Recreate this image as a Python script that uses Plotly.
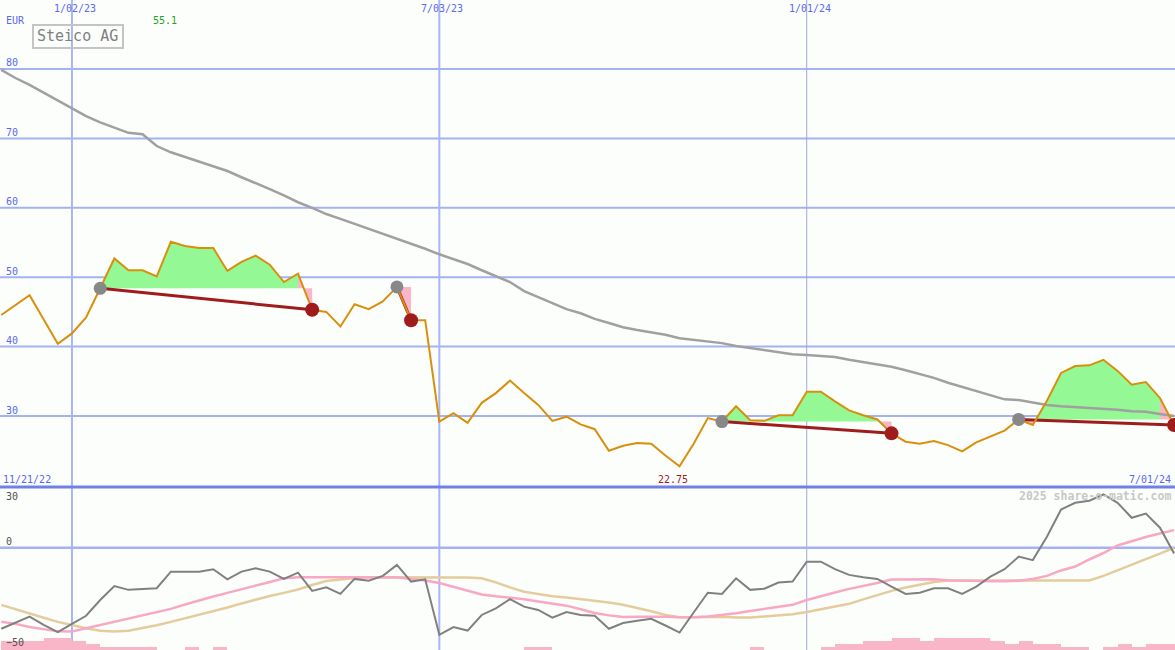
import pandas as pd
import plotly.graph_objects as go

W, H = 1175, 650

# ---------------- data ----------------
start = pd.Timestamp('2022-11-28')
dates = [start + pd.Timedelta(weeks=i) for i in range(84)]

price = [44.55, 46.0, 47.4, 43.9, 40.4, 41.9, 44.2, 48.4, 52.7, 51.0,
         51.0, 50.1, 55.1, 54.5, 54.2, 54.2, 50.9, 52.2, 53.1, 51.8,
         49.3, 50.5, 45.3, 45.0, 42.9, 46.1, 45.4, 46.5, 48.6, 43.8,
         43.8, 29.2, 30.4, 29.0, 31.9, 33.3, 35.1, 33.3, 31.6, 29.3,
         29.9, 28.8, 28.1, 25.0, 25.7, 26.1, 26.0, 24.3, 22.75, 26.0,
         29.7, 29.2, 31.4, 29.4, 29.3, 30.1, 30.1, 33.5, 33.5, 32.1,
         30.8, 30.1, 29.5, 27.5, 26.3, 26.0, 26.4, 25.8, 24.9, 26.2,
         27.1, 27.9, 29.5, 28.7, 32.2, 36.2, 37.2, 37.3, 38.1, 36.5,
         34.5, 34.9, 32.6, 28.7]

ma200 = [79.86, 78.7, 77.7, 76.6, 75.5, 74.4, 73.2, 72.3, 71.5, 70.8,
         70.6, 68.9, 68.0, 67.3, 66.6, 66.0, 65.3, 64.4, 63.6, 62.7,
         61.8, 60.8, 60.0, 59.1, 58.4, 57.7, 56.9, 56.2, 55.6, 54.8,
         54.1, 53.3, 52.6, 51.9, 51.0, 50.2, 49.3, 48.0, 47.1, 46.3,
         45.4, 44.8, 44.0, 43.4, 42.8, 42.4, 42.1, 41.7, 41.2, 41.0,
         40.8, 40.5, 40.1, 39.8, 39.5, 39.2, 38.9, 38.8, 38.6, 38.5,
         38.1, 37.8, 37.5, 37.1, 36.6, 36.1, 35.5, 34.8, 34.2, 33.6,
         33.0, 32.4, 32.3, 31.9, 31.6, 31.4, 31.3, 31.2, 31.0, 30.9,
         30.7, 30.6, 30.3, 30.0]

osc_gray = [-40.0, -36.9, -34.0, -38.1, -41.7, -37.6, -33.6, -25.8, -18.9, -20.8,
            -20.3, -20.0, -11.8, -11.8, -11.8, -10.6, -15.6, -11.8, -10.1, -11.8,
            -15.4, -12.3, -21.3, -19.5, -22.8, -15.4, -16.3, -13.9, -8.5, -16.7,
            -15.6, -43.0, -39.2, -40.9, -33.2, -29.9, -25.4, -29.1, -30.7, -34.5,
            -31.8, -33.2, -33.6, -40.0, -37.2, -36.0, -35.1, -38.4, -41.9, -32.0,
            -22.2, -22.8, -15.1, -20.8, -20.2, -17.2, -16.7, -6.9, -6.9, -10.6,
            -13.4, -14.6, -15.4, -19.2, -22.8, -22.2, -20.0, -20.0, -22.8, -19.2,
            -14.3, -10.6, -4.4, -6.1, 5.4, 18.9, 22.2, 23.2, 26.3, 22.2,
            14.8, 16.9, 9.9, -2.8]

osc_pink = [-36.5, -37.6, -39.1, -40.3, -41.3, -41.4, -39.8, -38.1, -36.4, -35.0,
            -33.1, -31.7, -30.2, -28.0, -25.9, -24.1, -22.3, -20.6, -18.7, -16.9,
            -15.1, -14.6, -14.6, -14.6, -14.6, -14.6, -14.6, -14.6, -14.6, -15.4,
            -16.2, -17.4, -19.4, -21.3, -23.1, -24.0, -24.6, -25.4, -26.5, -27.5,
            -28.6, -30.4, -32.2, -33.4, -34.2, -34.1, -34.0, -34.1, -34.3, -34.3,
            -33.9, -33.2, -32.3, -31.2, -30.2, -29.2, -28.2, -25.8, -23.8, -22.1,
            -20.3, -18.9, -17.4, -15.7, -15.6, -15.6, -15.6, -16.0, -16.3, -16.5,
            -16.6, -16.5, -16.3, -15.4, -13.9, -11.2, -9.3, -5.8, -2.6, 1.1,
            3.3, 5.3, 7.0, 8.7]

osc_tan = [-28.2, -30.4, -32.7, -34.6, -36.6, -38.3, -39.8, -41.0, -41.4, -41.0,
           -39.8, -38.3, -36.6, -34.9, -33.2, -31.2, -29.5, -27.5, -25.6, -23.8,
           -22.3, -20.6, -18.4, -16.4, -15.7, -14.9, -14.6, -14.6, -14.6, -14.6,
           -14.6, -14.6, -14.6, -14.7, -15.1, -17.1, -19.6, -21.7, -22.8, -24.0,
           -24.6, -25.3, -26.0, -27.0, -28.2, -29.7, -31.4, -33.2, -34.3, -34.3,
           -34.2, -34.1, -34.4, -34.5, -34.0, -33.5, -32.8, -31.7, -30.4, -29.2,
           -27.7, -25.5, -23.3, -21.3, -19.6, -18.1, -16.9, -16.2, -16.2, -16.2,
           -16.2, -16.2, -16.2, -16.2, -16.2, -16.2, -16.2, -16.2, -13.9, -11.0,
           -8.5, -5.6, -2.9, 0.0]

vol_level = [3, 3, 3, 4, 4, 3, 2, 1, 1, 1,
             1, 0, 0, 1, 0, 1, 0, 0, 0, 0,
             0, 0, 0, 0, 0, 0, 0, 0, 0, 0,
             0, 0, 0, 0, 0, 0, 0, 1, 1, 0,
             0, 0, 0, 0, 0, 0, 0, 0, 0, 0,
             0, 0, 0, 1, 0, 0, 0, 0, 1, 2,
             2, 3, 3, 4, 4, 3, 4, 4, 4, 4,
             3, 2, 3, 2, 2, 1, 1, 0, 1, 2,
             1, 2, 2, 2]

signal_start = [7, 28, 51, 72]
signal_end = [22, 29, 63, 83]

y_ticks = [80, 70, 60, 50, 40, 30]
y2_ticks = [30, 0, -50]
date_lines = ['2023-01-02', '2023-07-03', '2024-01-01']
date_labels = ['1/02/23', '7/03/23', '1/01/24']
date_line_width = [2, 2, 1]
first_label = '11/21/22'
last_label = '7/01/24'
max_label = '55.1'
min_label = '22.75'
title = 'Steico AG'
currency = 'EUR'

# ---------------- styles ----------------
BG = '#fcfefc'
GRID = '#a4b2f2'
SEP = '#7080e8'
TICK = '#5a68f0'
ORANGE = '#d8900c'
GREEN = '#94f894'
PINK = '#f8b6c8'
DARKRED = '#a01c1c'
MONO = 'DejaVu Sans Mono'

split = 1 - 487 / H
y_range = [19.77, 89.94]
y2_range = [-50.5, 30]

fig = go.Figure()


def clipped_poly(i0, i1, level, above):
    xs, ys = [], []
    for k in range(i0, i1 + 1):
        p = price[k]
        if k > i0:
            pp = price[k - 1]
            if (pp - level) * (p - level) < 0:
                f = (level - pp) / (p - pp)
                xs.append(dates[k - 1] + (dates[k] - dates[k - 1]) * f)
                ys.append(level)
        xs.append(dates[k])
        ys.append(max(p, level) if above else min(p, level))
    xs += [dates[i1], dates[i0]]
    ys += [level, level]
    return xs, ys


# lower panel bars
bar_base = y2_range[0] - 0.1
fig.add_trace(go.Bar(
    x=[d + pd.Timedelta(days=3.5) for d in dates],
    y=[v * 1.5 + (0.15 if v else 0) for v in vol_level],
    base=bar_base, width=7 * 24 * 3600 * 1000,
    marker=dict(color=PINK, line=dict(width=0)),
    yaxis='y2', hoverinfo='skip'))

# lower panel lines
fig.add_trace(go.Scatter(x=dates, y=osc_tan, mode='lines', yaxis='y2',
                         line=dict(color='#e4cc9c', width=2.5), hoverinfo='skip'))
fig.add_trace(go.Scatter(x=dates, y=osc_pink, mode='lines', yaxis='y2',
                         line=dict(color='#f8a8c4', width=2.5), hoverinfo='skip'))
fig.add_trace(go.Scatter(x=dates, y=osc_gray, mode='lines', yaxis='y2',
                         line=dict(color='#808080', width=2), hoverinfo='skip'))

# signal fills
for g, r in zip(signal_start, signal_end):
    L = price[g]
    if r - 1 > g:
        xs, ys = clipped_poly(g, r - 1, L, True)
        fig.add_trace(go.Scatter(x=xs, y=ys, fill='toself', fillcolor=GREEN,
                                 mode='lines', line=dict(width=0), hoverinfo='skip'))
    xs, ys = clipped_poly(g, r, L, False)
    fig.add_trace(go.Scatter(x=xs, y=ys, fill='toself', fillcolor=PINK,
                             mode='lines', line=dict(width=0), hoverinfo='skip'))
    p0, p1 = price[r - 1], price[r]
    if p0 > L > p1 and r - 1 > g:
        f = (L - p0) / (p1 - p0)
        xc = dates[r - 1] + (dates[r] - dates[r - 1]) * f
        fig.add_trace(go.Scatter(x=[dates[r - 1], xc, dates[r - 1]], y=[p0, L, L],
                                 fill='toself', fillcolor=PINK, mode='lines',
                                 line=dict(width=0), hoverinfo='skip'))

# moving average
fig.add_trace(go.Scatter(x=dates, y=ma200, mode='lines',
                         line=dict(color='#a0a0a0', width=2.5), hoverinfo='skip'))

# support lines
for g, r in zip(signal_start, signal_end):
    fig.add_trace(go.Scatter(x=[dates[g], dates[r]], y=[price[g], price[r]], mode='lines',
                             line=dict(color=DARKRED, width=3), hoverinfo='skip'))

# price
fig.add_trace(go.Scatter(x=dates, y=price, mode='lines',
                         line=dict(color=ORANGE, width=2), hoverinfo='skip'))

# dots
fig.add_trace(go.Scatter(x=[dates[g] for g in signal_start], y=[price[g] for g in signal_start],
                         mode='markers', marker=dict(color='#888888', size=13, line=dict(width=0)),
                         hoverinfo='skip'))
fig.add_trace(go.Scatter(x=[dates[r] for r in signal_end], y=[price[r] for r in signal_end],
                         mode='markers', marker=dict(color=DARKRED, size=14, line=dict(width=0)),
                         hoverinfo='skip'))

shapes = []
for v in y_ticks:
    shapes.append(dict(type='line', xref='paper', x0=0, x1=1, yref='y', y0=v, y1=v,
                       line=dict(color=GRID, width=2), layer='below'))
for d, w in zip(date_lines, date_line_width):
    shapes.append(dict(type='line', xref='x', x0=d, x1=d, yref='paper', y0=0, y1=1,
                       line=dict(color='#a8b6f4' if w == 2 else '#a0a8d8', width=w), layer='below'))
shapes.append(dict(type='line', xref='paper', x0=0, x1=1, yref='y2', y0=0, y1=0,
                   line=dict(color=GRID, width=2.5), layer='below'))
shapes.append(dict(type='line', xref='paper', x0=0, x1=1, yref='paper', y0=split, y1=split,
                   line=dict(color=SEP, width=3), layer='above'))
shapes.append(dict(type='rect', xref='paper', yref='paper', x0=33 / W, x1=123 / W,
                   y0=1 - 48 / H, y1=1 - 25 / H, line=dict(color='#c4c4c4', width=2),
                   fillcolor='rgba(0,0,0,0)', layer='above'))

ann = []


def px_ann(text, x, y, color, xanchor='left', size=10, **kw):
    ann.append(dict(text=text, xref='paper', yref='paper', x=x / W, y=1 - y / H,
                    xanchor=xanchor, yanchor='middle', showarrow=False,
                    font=dict(family=MONO, size=size, color=color), **kw))


for v in y_ticks:
    ann.append(dict(text=str(v), xref='paper', yref='y', x=4 / W, y=v, yshift=6,
                    xanchor='left', yanchor='middle', showarrow=False,
                    font=dict(family=MONO, size=10, color=TICK)))
for v, sh in zip(y2_ticks, [-9, 6, 6]):
    ann.append(dict(text=str(v).replace('-', '\u2212'), xref='paper', yref='y2', x=4 / W, y=v,
                    yshift=sh, xanchor='left', yanchor='middle', showarrow=False,
                    font=dict(family=MONO, size=10, color='#505050')))
for d, t in zip(date_lines, date_labels):
    ann.append(dict(text=t, xref='x', yref='paper', x=d, y=1 - 8 / H, xshift=3,
                    xanchor='center', yanchor='middle', showarrow=False,
                    font=dict(family=MONO, size=10, color=TICK)))

px_ann(currency, 4, 21, TICK)
px_ann(max_label, 165, 21, '#22a022', xanchor='center')
px_ann(first_label, 1, 479, TICK)
px_ann(last_label, 1173, 479, TICK, xanchor='right')
px_ann(min_label, 673, 479, DARKRED, xanchor='center')
px_ann(title, 78, 36.5, '#808080', xanchor='center', size=15)
px_ann('<b>2025 share-o-matic.com</b>', 1173, 496, '#c8c8c8', xanchor='right', size=11.5)

fig.update_layout(
    width=W, height=H,
    margin=dict(l=0, r=0, t=0, b=0, pad=0),
    paper_bgcolor=BG, plot_bgcolor=BG,
    showlegend=False, hovermode=False, bargap=0,
    xaxis=dict(type='date', range=['2022-11-27 08:30', '2024-07-01 10:45'],
               showgrid=False, zeroline=False, showticklabels=False, showline=False),
    yaxis=dict(domain=[split, 1], range=y_range, showgrid=False, zeroline=False,
               showticklabels=False, showline=False),
    yaxis2=dict(domain=[0, split], range=y2_range, showgrid=False, zeroline=False,
                showticklabels=False, showline=False, anchor='x'),
    shapes=shapes, annotations=ann,
)

fig.write_html('out.html', config={'displayModeBar': False},
               post_script="document.body.style.margin='0';document.body.style.padding='0';"
                           "document.body.style.overflow='hidden';")
